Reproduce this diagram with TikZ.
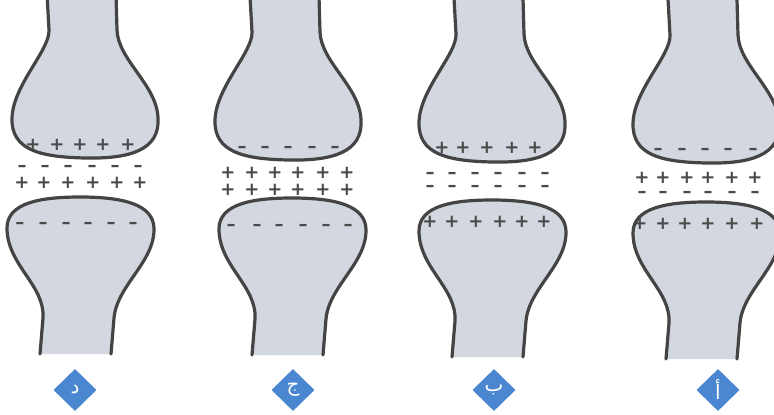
\documentclass[tikz,border=0pt]{standalone}
\usepackage{fontspec}
\usetikzlibrary{shapes.geometric}
\TeXXeTstate=1
\newfontfamily\chargefont{DejaVu Sans}
\newfontfamily\arabicfont[Script=Arabic]{DejaVu Sans}
\definecolor{cellfill}{HTML}{D3D7E0}
\definecolor{outline}{HTML}{444444}
\definecolor{chargecol}{HTML}{4A4A4A}
\definecolor{tagblue}{HTML}{4A87D0}

% upper (presynaptic) ending, shifted by (#1,#2)
\newcommand\upperend[2]{%
  \begin{scope}[shift={(#1,#2)}]
    \draw[membrane] (47,-6) -- (49,30)
      .. controls (50,50) and (13,85) .. (12,118)
      .. controls (11,150) and (40,157) .. (85,158)
      .. controls (130,159) and (160,150) .. (158,118)
      .. controls (157,85) and (118,60) .. (117,30) -- (116,-6);
  \end{scope}}
% lower (postsynaptic) ending, shifted by (#1,#2)
\newcommand\lowerend[2]{%
  \begin{scope}[shift={(#1,#2)}]
    \draw[membrane] (40,354) -- (43,318)
      .. controls (45,285) and (7,265) .. (7,228)
      .. controls (7,203) and (40,197) .. (80,197)
      .. controls (125,197) and (153,205) .. (154,228)
      .. controls (155,262) and (117,285) .. (114,318) -- (111,354);
  \end{scope}}
% a row of charges: name, symbol, y, list of x
\newcommand\chargerow[4]{%
  \foreach \cx [count=\ci] in {#4}
    \node[charge] (#1-\ci) at (\cx,#3) {#2};}

\begin{document}
\begin{tikzpicture}[x=1pt,y=-1pt,
  membrane/.style={fill=cellfill, draw=outline, line width=3.2pt,
    line join=round, line cap=round},
  charge/.style={anchor=base, yshift=-6pt, inner sep=0pt, text=chargecol,
    font=\chargefont\bfseries\fontsize{18}{18}\selectfont},
  tag/.style={diamond, fill=tagblue, minimum width=43pt, minimum height=42pt,
    inner sep=0pt, text=white, font=\arabicfont\fontsize{20}{20}\selectfont}]
\useasboundingbox (0,0) rectangle (774,415);
\clip (0,0) rectangle (774,415);

% synapse shapes
\upperend{0}{0}   \lowerend{0}{0}
\upperend{203}{2} \lowerend{212}{1}
\upperend{407}{4} \lowerend{412}{3}
\upperend{621}{5} \lowerend{626}{5}

% panel 1
\chargerow{a1}{+}{144}{33,57,80,103,128}
\chargerow{a2}{–}{165}{22,45,68,92,115,138}
\chargerow{a3}{+}{182}{22,44,68,93,117,140}
\chargerow{a4}{–}{222}{20,43,66,88,111,133}
% panel 2
\chargerow{b1}{–}{146}{242,265,288,312,335}
\chargerow{b2}{+}{172}{228,252,275,298,323,347}
\chargerow{b3}{+}{189}{228,252,275,298,323,347}
\chargerow{b4}{–}{224}{231,257,279,303,326,348}
% panel 3
\chargerow{c1}{+}{147}{442,463,487,512,535}
\chargerow{c2}{–}{172}{430,452,475,498,522,545}
\chargerow{c3}{–}{185}{430,452,475,498,522,545}
\chargerow{c4}{+}{221}{430,452,476,500,522,544}
% panel 4
\chargerow{d1}{–}{148}{658,682,705,728,753}
\chargerow{d2}{+}{177}{642,663,687,708,732,755}
\chargerow{d3}{–}{191}{642,663,687,708,732,755}
\chargerow{d4}{+}{223}{640,663,685,708,732,757}

% panel labels
\node[tag] (tag1) at (75,390) {\beginR د\endR};
\node[tag] (tag2) at (293,390) {\beginR ج\endR};
\node[tag] (tag3) at (494,390) {\beginR ب\endR};
\node[tag] (tag4) at (718,390) {\beginR أ\endR};
\end{tikzpicture}
\end{document}
